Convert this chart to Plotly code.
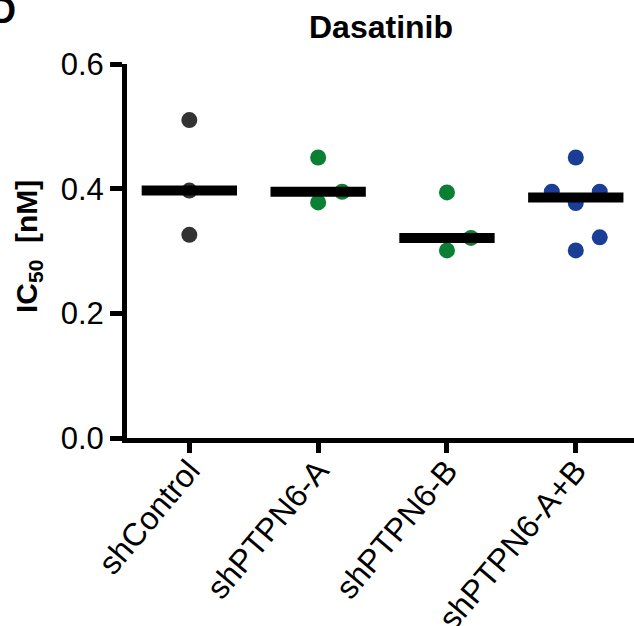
import numpy as np
import plotly.graph_objects as go

# ---- data ----
categories = ["shControl", "shPTPN6-A", "shPTPN6-B", "shPTPN6-A+B"]
ic50_shControl = [0.510, 0.397, 0.326]
ic50_shPTPN6_A = [0.450, 0.378, 0.395]
ic50_shPTPN6_B = [0.394, 0.301, 0.321]
ic50_shPTPN6_AB = [0.450, 0.395, 0.395, 0.377, 0.322, 0.301]
y_ticks = [0.0, 0.2, 0.4, 0.6]
y_ticklabels = ["0.0", "0.2", "0.4", "0.6"]

# ---- display style (scatter slot per point: -1 left, 0 centre, 1 right) ----
slots = [
    [0, 0, 0],
    [0, 0, 1],
    [0, 0, 1],
    [0, -1, 1, 0, 1, 0],
]
colors = ["#333333", "#0b8035", "#0b8035", "#1a3d95"]
slot_dx = 0.186
bar_half = 0.37

groups = [ic50_shControl, ic50_shPTPN6_A, ic50_shPTPN6_B, ic50_shPTPN6_AB]
FONT = "Arial, Liberation Sans, Helvetica, sans-serif"

fig = go.Figure()
for i, (vals, sl, col) in enumerate(zip(groups, slots, colors)):
    xs = [i + s * slot_dx for s in sl]
    fig.add_trace(go.Scatter(x=xs, y=vals, mode="markers",
                             marker=dict(size=16, color=col, line=dict(width=0)),
                             showlegend=False, hoverinfo="y"))

for i, vals in enumerate(groups):
    med = float(np.median(vals))
    fig.add_trace(go.Scatter(x=[i - bar_half, i + bar_half], y=[med, med], mode="lines",
                             line=dict(color="black", width=10), showlegend=False,
                             hoverinfo="skip"))

W, H = 634, 626
L, R, T, B = 127, 0, 64, 188
pw, ph = W - L - R, H - T - B

fig.update_layout(
    width=W, height=H,
    margin=dict(l=L, r=R, t=T, b=B, pad=0, autoexpand=False),
    paper_bgcolor="white", plot_bgcolor="white",
    font=dict(family=FONT, size=28, color="black"),
    xaxis=dict(range=[-0.484, 3.452], tickmode="array", tickvals=list(range(len(categories))),
               ticktext=categories, tickangle=-50, showgrid=False, zeroline=False,
               automargin=False, ticklabelstandoff=-14,
               showline=True, linecolor="black", linewidth=5,
               ticks="outside", ticklen=10, tickwidth=5, tickcolor="black",
               tickfont=dict(family=FONT, size=32, color="black")),
    yaxis=dict(range=[0, 0.6], tickmode="array", tickvals=y_ticks, ticktext=y_ticklabels,
               showgrid=False, zeroline=False, automargin=False,
               showline=True, linecolor="black", linewidth=5,
               ticks="outside", ticklen=12, tickwidth=5, tickcolor="black",
               tickfont=dict(family=FONT, size=31, color="black")),
    annotations=[
        dict(text="<b>Dasatinib</b>", xref="paper", yref="paper", x=0.5,
             y=1 + (T - 27) / ph, xanchor="center", yanchor="middle", showarrow=False,
             font=dict(family=FONT, size=32, color="black")),
        dict(text="<b>IC<sub>50</sub>  [nM]</b>", xref="paper", yref="paper",
             x=-(L - 29) / pw, y=0.5 + 4 / ph, xanchor="center", yanchor="middle", textangle=-90,
             showarrow=False, font=dict(family=FONT, size=30, color="black")),
        dict(text="<b>D</b>", xref="paper", yref="paper",
             x=-(L - 18) / pw, y=1 + (T - 10) / ph, xanchor="right", yanchor="middle",
             showarrow=False, font=dict(family=FONT, size=36, color="black")),
    ],
)

fig.write_html("out.html")
